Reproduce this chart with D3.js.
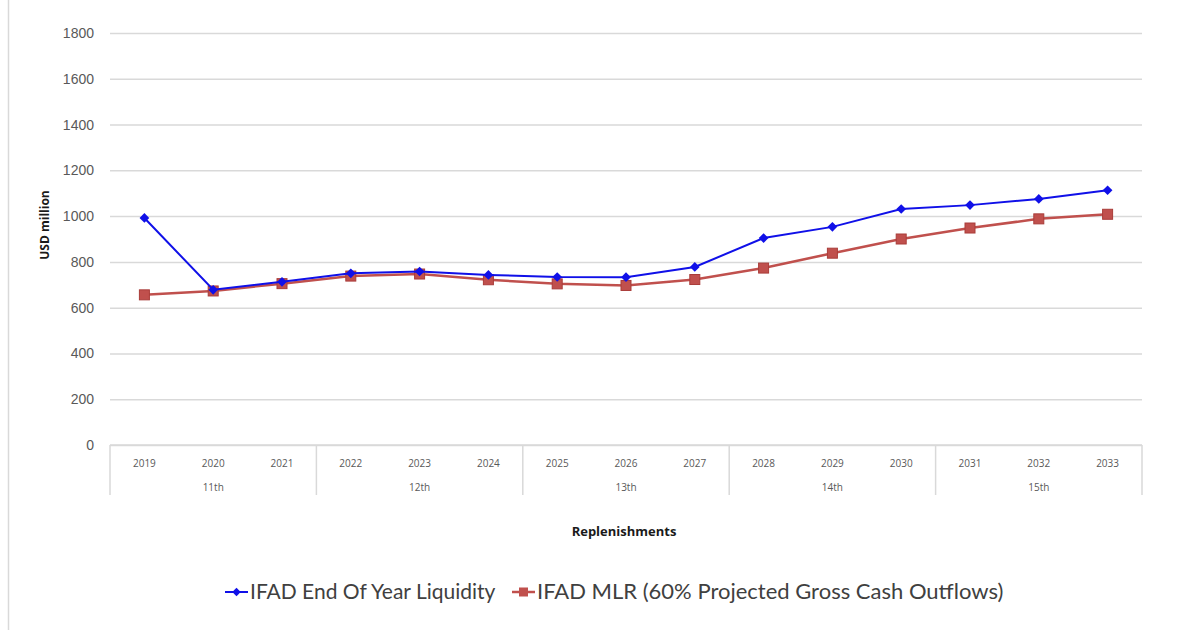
<!DOCTYPE html>
<html>
<head>
<meta charset="utf-8">
<script src="https://cdn.jsdelivr.net/npm/d3@7"></script>
<style>
  body { margin: 0; background: #fff; }
  svg { display: block; font-family: "Open Sans", "Liberation Sans", sans-serif; }
</style>
</head>
<body>
<div class="container"></div>
<script>
// chart data
const years = ["2019","2020","2021","2022","2023","2024","2025","2026","2027","2028","2029","2030","2031","2032","2033"];
const groups = ["11th","12th","13th","14th","15th"];
const liquidity = [992, 678, 713, 750, 758, 743, 734, 733, 778, 904, 953, 1031, 1048, 1075, 1113];
const mlr = [656, 673, 705, 738, 747, 722, 704, 697, 723, 773, 838, 900, 948, 988, 1008];
const yTicks = [0, 200, 400, 600, 800, 1000, 1200, 1400, 1600, 1800];

const w = 1189, h = 630;
const plotLeft = 110, plotRight = 1142, plotTop = 33, plotBottom = 445;

const svg = d3.select(".container").append("svg")
    .attr("width", w).attr("height", h);

// left border of the chart frame
svg.append("line")
   .attr("x1", 8.5).attr("x2", 8.5).attr("y1", 0).attr("y2", h)
   .attr("stroke", "#d9d9d9").attr("stroke-width", 1.5);

const xScale = d3.scaleBand().domain(years).range([plotLeft, plotRight]);
const yScale = d3.scaleLinear().domain([0, 1800]).range([plotBottom, plotTop]);

/* gridlines + y labels */
const yAxis = d3.axisLeft(yScale).tickValues(yTicks).tickFormat(d3.format("d"))
    .tickSize(-(plotRight - plotLeft)).tickPadding(16);
const gy = svg.append("g").attr("transform", `translate(${plotLeft},0)`).call(yAxis);
gy.select(".domain").remove();
gy.selectAll(".tick line").attr("stroke", "#d9d9d9").attr("stroke-width", 1.5);
gy.selectAll(".tick text").attr("fill", "#595959").style("font-size", "14px");

/* category axis: years + replenishment groups */
const gx = svg.append("g");
gx.append("line")
  .attr("x1", plotLeft).attr("x2", plotRight).attr("y1", plotBottom).attr("y2", plotBottom)
  .attr("stroke", "#d9d9d9").attr("stroke-width", 1.5);

gx.selectAll(".yr").data(years).enter().append("text")
  .attr("class", "yr")
  .attr("x", d => xScale(d) + xScale.bandwidth() / 2)
  .attr("y", 467)
  .attr("text-anchor", "middle")
  .attr("fill", "#595959")
  .style("font-size", "10px")
  .text(d => d);

const perGroup = years.length / groups.length;
const sepX = d3.range(groups.length + 1).map(i => i < groups.length ? xScale(years[i * perGroup]) : plotRight);
gx.selectAll(".sep").data(sepX).enter().append("line")
  .attr("x1", d => d).attr("x2", d => d)
  .attr("y1", plotBottom).attr("y2", 495)
  .attr("stroke", "#d9d9d9").attr("stroke-width", 1.5);

gx.selectAll(".grp").data(groups).enter().append("text")
  .attr("class", "grp")
  .attr("x", (d, i) => (sepX[i] + sepX[i + 1]) / 2)
  .attr("y", 491)
  .attr("text-anchor", "middle")
  .attr("fill", "#595959")
  .style("font-size", "10px")
  .text(d => d);

/* axis titles */
svg.append("text")
   .attr("transform", "translate(49,225) rotate(-90)")
   .attr("text-anchor", "middle")
   .style("font-size", "12px").style("font-weight", "bold")
   .attr("fill", "#1a1a1a")
   .text("USD million");

svg.append("text")
   .attr("x", 624).attr("y", 536)
   .attr("text-anchor", "middle")
   .style("font-size", "13px").style("font-weight", "bold")
   .attr("fill", "#1a1a1a")
   .text("Replenishments");

/* series */
const blue = "#1010e8", red = "#c0504d";
const cx = (d, i) => xScale(years[i]) + xScale.bandwidth() / 2;
const line = d3.line().x(cx).y(d => yScale(d));

svg.append("path").datum(mlr)
   .attr("d", line).attr("fill", "none")
   .attr("stroke", red).attr("stroke-width", 2.5);
svg.selectAll(".sq").data(mlr).enter().append("rect")
   .attr("class", "sq")
   .attr("x", (d, i) => cx(d, i) - 5).attr("y", d => yScale(d) - 5)
   .attr("width", 10).attr("height", 10)
   .attr("fill", red).attr("stroke", "#a93c39").attr("stroke-width", 1);

svg.append("path").datum(liquidity)
   .attr("d", line).attr("fill", "none")
   .attr("stroke", blue).attr("stroke-width", 2);
const diamond = d3.symbol().type(d3.symbolDiamond2).size(60);
svg.selectAll(".dm").data(liquidity).enter().append("path")
   .attr("class", "dm")
   .attr("d", diamond)
   .attr("transform", (d, i) => `translate(${cx(d, i)},${yScale(d)})`)
   .attr("fill", blue);

/* legend */
const legend = svg.append("g").attr("id", "legend");
const legendItems = [
  { name: "IFAD End Of Year Liquidity", color: blue, x: 225, marker: "diamond", size: 21 },
  { name: "IFAD MLR (60% Projected Gross Cash Outflows)", color: red, x: 512, marker: "square", size: 22 }
];
legendItems.forEach(it => {
  const g = legend.append("g").attr("transform", `translate(${it.x},592)`);
  g.append("line").attr("x1", 0).attr("x2", 23).attr("y1", 0).attr("y2", 0)
   .attr("stroke", it.color).attr("stroke-width", it.marker === "square" ? 2.5 : 2);
  if (it.marker === "square") {
    g.append("rect").attr("x", 7).attr("y", -4.5).attr("width", 9).attr("height", 9).attr("fill", it.color);
  } else {
    g.append("path").attr("d", d3.symbol().type(d3.symbolDiamond2).size(45)).attr("transform", "translate(11.5,0)").attr("fill", it.color);
  }
  g.append("text").attr("x", 25).attr("y", 7)
   .style("font-size", it.size + "px").style("font-family", "Lato, sans-serif")
   .attr("fill", "#404040")
   .text(it.name);
});
</script>
</body>
</html>
